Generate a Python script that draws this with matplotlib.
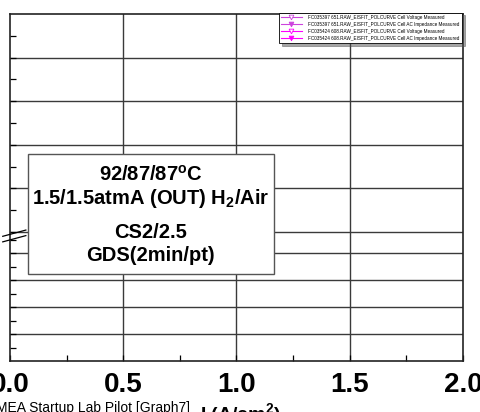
import matplotlib
matplotlib.use("Agg")
import matplotlib.pyplot as plt
import numpy as np
from matplotlib.patches import Rectangle
from matplotlib import font_manager

plt.rcParams["font.family"] = ["Liberation Sans", "DejaVu Sans"]
plt.rcParams["mathtext.fontset"] = "custom"
plt.rcParams["mathtext.rm"] = "Liberation Sans"
plt.rcParams["mathtext.bf"] = "Liberation Sans:bold"
plt.rcParams["mathtext.default"] = "bf"

installed = {f.name for f in font_manager.fontManager.ttflist}
narrow = "Liberation Sans Narrow" if "Liberation Sans Narrow" in installed else None

# series shown in the legend (no points fall inside this current-density window)
series_names = [
    "FC035397 651.RAW_EISFIT_POLCURVE Cell Voltage Measured",
    "FC035397 651.RAW_EISFIT_POLCURVE Cell AC Impedance Measured",
    "FC035424 608.RAW_EISFIT_POLCURVE Cell Voltage Measured",
    "FC035424 608.RAW_EISFIT_POLCURVE Cell AC Impedance Measured",
]
series_x = [[], [], [], []]
series_y = [[], [], [], []]
series_colors = ["#cc44dd", "#cc44dd", "#ff00ff", "#ff00ff"]
series_filled = [False, True, False, True]

x_ticks = [0.0, 0.5, 1.0, 1.5, 2.0]
x_tick_labels = ["0.0", "0.5", "1.0", "1.5", "2.0"]

conditions = ["92/87/87$^{o}$C", "1.5/1.5atmA (OUT) H$_{2}$/Air", "CS2/2.5", "GDS(2min/pt)"]

W, H = 481, 412
fig = plt.figure(figsize=(W / 100, H / 100), dpi=100)
ax = fig.add_axes([10 / W, 1 - 361 / H, 453 / W, 347 / H])

for name, xs, ys, c, filled in zip(series_names, series_x, series_y, series_colors, series_filled):
    ax.plot(xs, ys, color=c, lw=0.8, marker="v", ms=3.4,
            mfc=c if filled else "white", mec=c, mew=0.6, label=name)

ax.set_xlim(0, 2.0)
ax.set_ylim(0, 1)

# broken y axis: short lower segment and taller upper segment
low_step = 27 / 347
up_base, up_step = 129 / 347, 43.6 / 347
y_major = list(np.arange(1, 5) * low_step) + list(up_base + np.arange(0, 5) * up_step)
y_minor = list((np.arange(5) + 0.5) * low_step) + list(up_base + (np.arange(5) + 0.5) * up_step)
ax.set_yticks(y_major)
ax.set_yticks(y_minor, minor=True)
ax.set_yticklabels([])

ax.set_xticks(x_ticks)
ax.set_xticks(np.arange(0.25, 2.0, 0.5), minor=True)
ax.set_xticklabels(x_tick_labels, fontsize=20, fontweight="bold")

ax.tick_params(which="both", direction="in", length=4, width=0.9,
               top=False, right=False)
ax.tick_params(axis="x", which="major", pad=8)

for yv in y_major:
    ax.axhline(yv, color="#3a3a3a", lw=1.0, zorder=1)
for xv in x_ticks[1:-1]:
    ax.axvline(xv, color="#3a3a3a", lw=1.0, zorder=1)

for s in ax.spines.values():
    s.set_linewidth(1.2)
    s.set_color("#222222")

# axis break marks
brk = 124 / 347
for dy in (0.0, 0.016):
    ax.plot([-0.016, 0.035], [brk - 0.014 + dy, brk + 0.004 + dy],
            transform=ax.transAxes, color="black", lw=0.9, clip_on=False, zorder=5)

# conditions box
ax.add_patch(Rectangle((18 / 453, 87 / 347), 246 / 453, 120 / 347,
                       transform=ax.transAxes, facecolor="white",
                       edgecolor="#555555", lw=1.0, zorder=6))
box_family = [narrow, "Liberation Sans"] if narrow else ["Liberation Sans"]
box_size = 17 if narrow else 14.5
for txt, yy in zip(conditions, [0.536, 0.467, 0.369, 0.303]):
    ax.text(0.311, yy, txt, transform=ax.transAxes, ha="center", va="center",
            fontsize=box_size, fontweight="bold", family=box_family, zorder=7)

leg = ax.legend(loc="upper right", bbox_to_anchor=(0.998, 1.004),
                prop={"family": box_family, "size": 3.9 if narrow else 3.3},
                frameon=True, fancybox=False, shadow=True, borderaxespad=0,
                handlelength=4.4, handletextpad=1.5, labelspacing=0.42,
                borderpad=0.5)
leg.get_frame().set_edgecolor("black")
leg.get_frame().set_linewidth(0.6)
leg.set_zorder(8)

fig.text(-4 / W, 1 - 401 / H, "MEA Startup Lab Pilot [Graph7]", fontsize=10,
         ha="left", va="top")
fig.text(200 / W, 1 - 401 / H, "I (A/cm$^{2}$)", fontsize=14, fontweight="bold",
         ha="left", va="top")

fig.savefig("out.png", dpi=100)
